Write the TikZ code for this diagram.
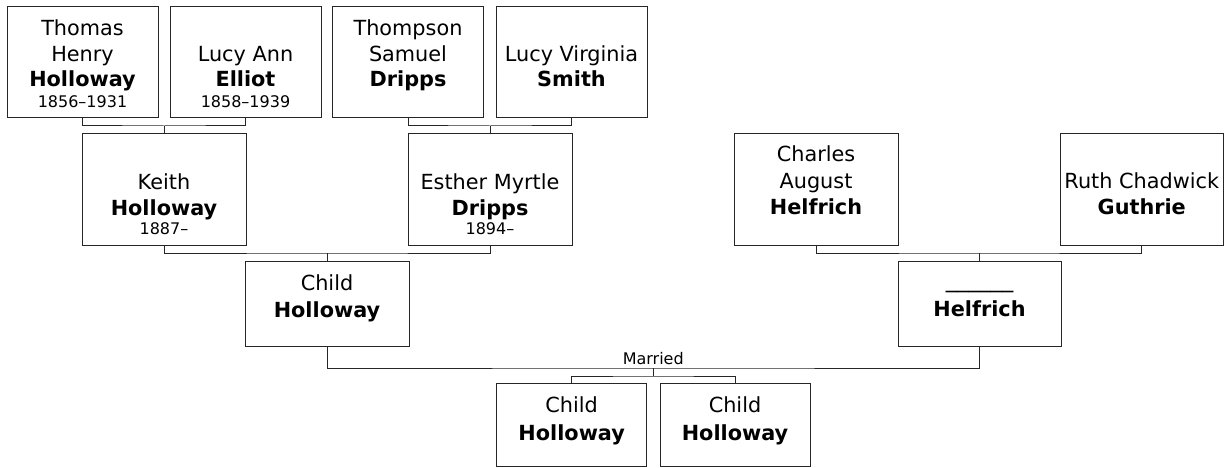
\documentclass[tikz,border=0pt]{standalone}
\usepackage{fontspec}
\setmainfont{DejaVu Sans}
\usetikzlibrary{calc}
\tikzset{
  pbox/.style={draw=black!85, line width=1pt, rectangle, inner sep=0pt, outer sep=0pt},
  wide/.style={minimum width=164pt, minimum height=111.5pt},
  narrow/.style={minimum width=151pt, minimum height=111pt},
  kid/.style={minimum width=164pt, minimum height=85pt},
  link/.style={draw=black!85, line width=1pt},
  nm/.style={anchor=base, inner sep=0pt, font=\fontsize{20.8}{25}\selectfont},
  sn/.style={anchor=base, inner sep=0pt, font=\fontsize{20.8}{25}\selectfont\bfseries},
  yr/.style={anchor=base, inner sep=0pt, font=\fontsize{16}{19}\selectfont},
}
\begin{document}
\begin{tikzpicture}[x=1pt,y=-1pt]
\useasboundingbox (0,0) rectangle (1228,468);

% ---- generation 1 ----
\node[pbox, narrow] (A) at (82.5,62.5) {};
\node[nm] (A1) at (82.5,36) {Thomas};
\node[nm] (A2) at (82.5,62) {Henry};
\node[sn] (A3) at (82.5,87) {Holloway};
\node[yr] (A4) at (82.5,108) {1856–1931};

\node[pbox, narrow] (B) at (245.5,62.5) {};
\node[nm] (B2) at (245.5,62) {Lucy Ann};
\node[sn] (B3) at (245.5,87) {Elliot};
\node[yr] (B4) at (245.5,108) {1858–1939};

\node[pbox, narrow] (C) at (408,62.5) {};
\node[nm] (C1) at (408,36) {Thompson};
\node[nm] (C2) at (408,62) {Samuel};
\node[sn] (C3) at (408,87) {Dripps};

\node[pbox, narrow] (D) at (571.5,62.5) {};
\node[nm] (D2) at (571.5,62) {Lucy Virginia};
\node[sn] (D3) at (571.5,87) {Smith};

% ---- generation 2 ----
\node[pbox, wide] (E) at (164,189.75) {};
\node[nm] (E2) at (164,189) {Keith};
\node[sn] (E3) at (164,215) {Holloway};
\node[yr] (E4) at (164,234) {1887–};

\node[pbox, wide] (F) at (490,189.75) {};
\node[nm] (F2) at (490,189) {Esther Myrtle};
\node[sn] (F3) at (490,215) {Dripps};
\node[yr] (F4) at (490,234) {1894–};

\node[pbox, wide] (G) at (816,189.75) {};
\node[nm] (G1) at (816,161) {Charles};
\node[nm] (G2) at (816,188) {August};
\node[sn] (G3) at (816,214) {Helfrich};

\node[pbox, wide, minimum width=163pt] (H) at (1141.75,189.75) {};
\node[nm] (H2) at (1141.75,188) {Ruth Chadwick};
\node[sn] (H3) at (1141.75,214) {Guthrie};

% ---- generation 3 ----
\node[pbox, kid] (I) at (327,303.5) {};
\node[nm] (I1) at (327,290) {Child};
\node[sn] (I2) at (327,317.5) {Holloway};

\node[pbox, kid, minimum width=163pt] (J) at (979.5,303.5) {};
\node[anchor=base, inner sep=0pt, font=\fontsize{22.5}{25}\selectfont] (J1) at (979.5,287) {\_\_\_\_\_\_};
\node[sn] (J2) at (979.5,316) {Helfrich};

% ---- generation 4 ----
\node[pbox, minimum width=150pt, minimum height=83pt] (K) at (571.7,424.5) {};
\node[nm] (K1) at (571.7,412.7) {Child};
\node[sn] (K2) at (571.7,440) {Holloway};

\node[pbox, minimum width=150pt, minimum height=83pt] (L) at (735,424.5) {};
\node[nm] (L1) at (735,412.7) {Child};
\node[sn] (L2) at (735,440) {Holloway};

% ---- junctions ----
\coordinate (jAB) at ($(E.north)+(0,-8)$);
\coordinate (jCD) at ($(F.north)+(0,-8)$);
\coordinate (jEF) at ($(I.north)+(0,-8)$);
\coordinate (jGH) at ($(J.north)+(0,-8)$);
\coordinate (jM) at ($($(I.south)!0.5!(J.south)$)+(0,22)$);
\coordinate (jKL) at ($(jM)+(0,8)$);

% ---- connectors ----
\draw[link] (A.south) |- (jAB) -| (B.south);
\draw[link] (jAB) -- (E.north);
\draw[link] (C.south) |- (jCD) -| (D.south);
\draw[link] (jCD) -- (F.north);
\draw[link] (E.south) |- (jEF) -| (F.south);
\draw[link] (jEF) -- (I.north);
\draw[link] (G.south) |- (jGH) -| (H.south);
\draw[link] (jGH) -- (J.north);
\draw[link] (I.south) |- (jM) -| (J.south);
\draw[link] (jM) -- (jKL);
\draw[link] (K.north) |- (jKL) -| (L.north);

\node[yr] (married) at ($(jM)+(0,-4)$) {Married};
\end{tikzpicture}
\end{document}
